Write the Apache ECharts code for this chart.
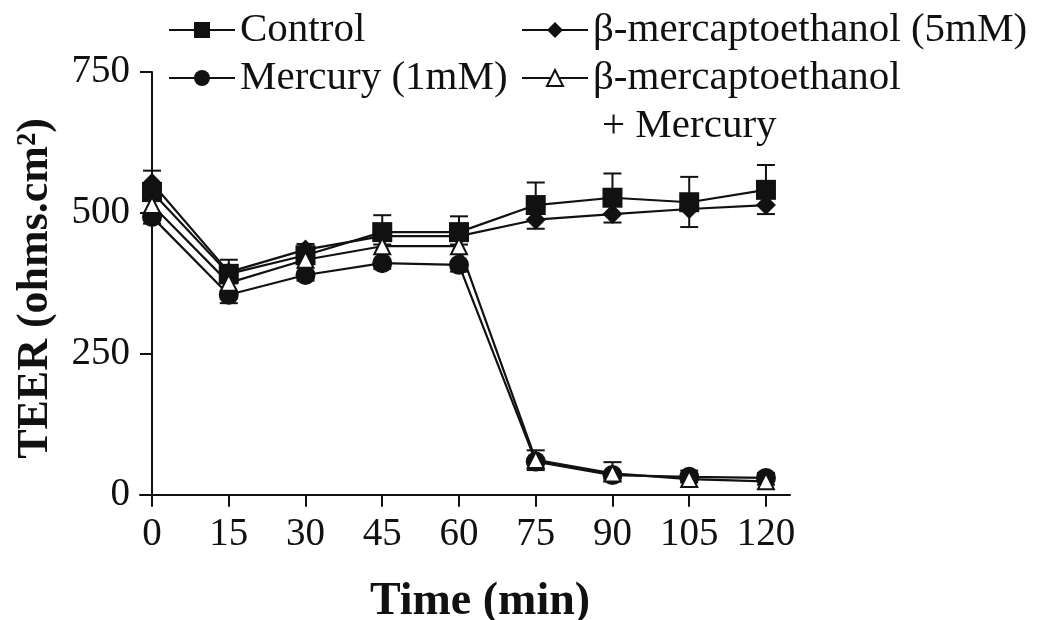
<!DOCTYPE html>
<html>
<head>
<meta charset="utf-8">
<script src="https://cdn.jsdelivr.net/npm/echarts@6/dist/echarts.min.js"></script>
<style>
  html, body { margin: 0; padding: 0; background: #fff; }
  #chart { width: 1039px; height: 620px; }
</style>
</head>
<body>
<div id="chart"></div>
<script>
const timePoints = [0, 15, 30, 45, 60, 75, 90, 105, 120];
const xTicks = [0, 15, 30, 45, 60, 75, 90, 105, 120];
const yTicks = [0, 250, 500, 750];

const control = [537, 392, 425, 466, 466, 514, 527, 519, 541];
const controlErr = [38, 25, 20, 30, 28, 40, 43, 45, 44];
const mercury = [493, 355, 390, 411, 408, 59, 35, 32, 30];
const mercuryErr = [12, 15, 10, 10, 12, 15, 10, 10, 12];
const bme = [553, 395, 435, 459, 459, 488, 498, 507, 514];
const bmeErr = [15, 20, 15, 15, 15, 16, 15, 32, 16];
const bmeHg = [514, 376, 417, 441, 441, 62, 38, 28, 24];
const bmeHgErr = [12, 15, 15, 12, 12, 17, 20, 15, 15];

const FONT = '"Liberation Serif", "DejaVu Serif", serif';
const chart = echarts.init(document.getElementById('chart'));

const pairs = (vals) => timePoints.map((t, i) => [t, vals[i]]);
const errData = (vals, errs, dir) => timePoints.map((t, i) => [t, vals[i], errs[i] * dir]);

const errSeries = (name, vals, errs, dir) => ({
  type: 'custom',
  name: name,
  z: 1,
  silent: true,
  data: errData(vals, errs, dir),
  renderItem: (params, api) => {
    const p0 = api.coord([api.value(0), api.value(1)]);
    const p1 = api.coord([api.value(0), api.value(1) + api.value(2)]);
    const style = { stroke: '#111', lineWidth: 2 };
    return {
      type: 'group',
      children: [
        { type: 'line', shape: { x1: p0[0], y1: p0[1], x2: p1[0], y2: p1[1] }, style: style },
        { type: 'line', shape: { x1: p1[0] - 9, y1: p1[1], x2: p1[0] + 9, y2: p1[1] }, style: style }
      ]
    };
  }
});

const lineSeries = (name, vals, symbol, size, fill) => ({
  type: 'line',
  name: name,
  z: 3,
  data: pairs(vals),
  symbol: symbol,
  symbolSize: size,
  showAllSymbol: true,
  lineStyle: { color: '#111', width: 2.2 },
  itemStyle: { color: fill, borderColor: '#111', borderWidth: fill === '#fff' ? 2 : 0 },
  emphasis: { disabled: true }
});

const NAME_C = 'Control';
const NAME_M = 'Mercury (1mM)';
const NAME_B = 'β-mercaptoethanol (5mM)';
const NAME_BM = 'β-mercaptoethanol + Mercury';

const legendText = { fontFamily: FONT, fontSize: 41, color: '#111', lineHeight: 42 };

chart.setOption({
  animation: false,
  textStyle: { fontFamily: FONT, color: '#111' },
  grid: { left: 140, right: 249, top: 72, bottom: 115, outerBoundsMode: 'none' },
  legend: [
    {
      data: [NAME_C, NAME_M],
      left: 163, top: 4, orient: 'vertical',
      itemWidth: 66, itemHeight: 20, itemGap: 6,
      textStyle: legendText
    },
    {
      data: [NAME_B, NAME_BM],
      left: 516, top: 4, orient: 'vertical',
      itemWidth: 66, itemHeight: 20, itemGap: 6,
      formatter: (n) => n === NAME_BM ? 'β-mercaptoethanol' : n,
      textStyle: legendText
    }
  ],
  graphic: [
    {
      type: 'text', left: 602, top: 106,
      style: { text: '+ Mercury', font: '41px ' + FONT, fill: '#111' }
    }
  ],
  xAxis: {
    type: 'value',
    min: -2.35, max: 124.7,
    name: 'Time (min)',
    nameLocation: 'middle',
    nameGap: 74,
    nameTextStyle: { fontFamily: FONT, fontSize: 46, fontWeight: 'bold', color: '#111', padding: [0, 0, 0, 30] },
    axisLine: { onZero: true, lineStyle: { color: '#111', width: 2 } },
    axisTick: { show: true, length: 12, inside: false, customValues: xTicks, lineStyle: { color: '#111', width: 2 } },
    axisLabel: { customValues: xTicks, fontFamily: FONT, fontSize: 39, color: '#111', margin: 10 },
    splitLine: { show: false }
  },
  yAxis: {
    type: 'value',
    min: -18, max: 750,
    name: 'TEER (ohms.cm²)',
    nameLocation: 'middle',
    nameGap: 82,
    nameTextStyle: { fontFamily: FONT, fontSize: 44, fontWeight: 'bold', color: '#111' },
    axisLine: { show: true, onZero: true, lineStyle: { color: '#111', width: 2 } },
    axisTick: { show: true, length: 12, customValues: yTicks, lineStyle: { color: '#111', width: 2 } },
    axisLabel: { customValues: yTicks, fontFamily: FONT, fontSize: 39, color: '#111', margin: 10 },
    splitLine: { show: false }
  },
  series: [
    errSeries('errC', control, controlErr, 1),
    errSeries('errB', bme, bmeErr, -1),
    errSeries('errM', mercury, mercuryErr, -1),
    errSeries('errBM', bmeHg, bmeHgErr, 1),
    lineSeries(NAME_C, control, 'rect', 20, '#111'),
    lineSeries(NAME_B, bme, 'diamond', 20, '#111'),
    lineSeries(NAME_M, mercury, 'circle', 20, '#111'),
    lineSeries(NAME_BM, bmeHg, 'triangle', 16, '#fff')
  ]
});
</script>
</body>
</html>
